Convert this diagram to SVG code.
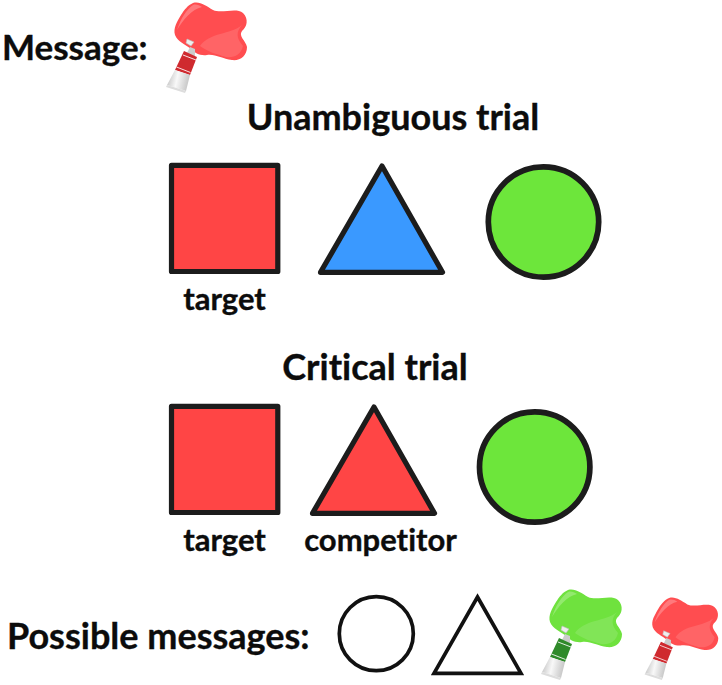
<svg xmlns="http://www.w3.org/2000/svg" width="722" height="685" viewBox="0 0 722 685">
<style>
text{font-family:Lato,"Liberation Sans",sans-serif;font-weight:700;fill:#0c0c0c;stroke:#0c0c0c;stroke-width:.35;font-variant-ligatures:none}
.h{font-size:36px}
.m{font-size:35px}
.l{font-size:31px}
.s{stroke:#1c1c1c;stroke-width:5.2;stroke-linejoin:round}
.c{stroke:#1c1c1c;stroke-width:5.700;fill:#6de63b}
.o{stroke:#111;stroke-width:3.700;fill:#fff;stroke-linejoin:miter}
</style>
<defs>
<linearGradient id="cap" x1="0" y1="0" x2="1" y2="0.2"><stop offset="0" stop-color="#bbb"/><stop offset=".5" stop-color="#f8f8f8"/><stop offset="1" stop-color="#c8c8c8"/></linearGradient>
<g id="paint">
<path d="M43 3 C50 1 56 6 63 10 C72 14 86 7 93 13 C99 19 97 27 92 31 C88 36 96 41 97 47 C97 56 90 61 82 60 C72 59 66 54 57 55 C50 56 45 53 41 49 C35 44 28 42 25 35 C23 28 27 22 31 15 C34 10 38 5 43 3Z" fill="var(--bc)"/>
<path d="M43 5 C37 9 31 18 27 30 C33 20 42 9 52 7 C49 5 46 4 43 5Z" fill="#fff" opacity=".25"/>
<path d="M50 46 C60 32 80 35 92 25 C86 32 86 38 93 46 C91 55 84 58 76 57 C66 54 58 52 50 46Z" fill="#fff" opacity=".13"/>
<path d="M37 39 L44 42 L41 46 L36 43Z" fill="#eee" stroke="#bbb" stroke-width=".6"/>
<path d="M40 47 L45 49 L45 57 L37 53Z" fill="#ccc"/>
<path d="M34 51 L47 57 L40 75 L25 70Z" fill="var(--tc)"/>
<path d="M33 55 L46 60 M26.500 67 L40.500 72.500" stroke="#fff" stroke-width="1" opacity=".85" fill="none"/>
<path d="M25 70 L40 75 L36 91 L17 85Z" fill="url(#cap)"/>
<path d="M17 85 L36 91 L35 93 L16 87Z" fill="#ddd"/>
</g>
</defs>
<text class="m" x="2" y="60">Message:</text>
<g id="paint-message" transform="translate(150,0)" style="--bc:#ff4d50;--tc:#cf2a2f"><use href="#paint"/></g>
<text class="h" x="393" y="130" text-anchor="middle">Unambiguous trial</text>
<g id="u-square"><rect class="s" x="171.500" y="165.300" width="106.300" height="106.200" fill="#ff4545"/></g>
<g id="u-triangle"><path class="s" d="M382 166 L442.500 272.300 L320.500 272.300Z" fill="#3a99ff"/></g>
<g id="u-circle"><circle class="c" cx="543.500" cy="222" r="55.200"/></g>
<text class="l" x="224.500" y="310" text-anchor="middle">target</text>
<text class="h" x="375" y="380" text-anchor="middle">Critical trial</text>
<g id="c-square"><rect class="s" x="171.500" y="406.300" width="106.300" height="106.200" fill="#ff4545"/></g>
<g id="c-triangle"><path class="s" d="M374 407 L434.500 513.300 L312.500 513.300Z" fill="#ff4545"/></g>
<g id="c-circle"><circle class="c" cx="534.700" cy="467" r="55.200"/></g>
<text class="l" x="224.500" y="551" text-anchor="middle">target</text>
<text class="l" x="380.500" y="551" text-anchor="middle">competitor</text>
<text class="h" x="7" y="649">Possible messages:</text>
<g id="o-circle"><circle class="o" cx="376.300" cy="633.700" r="37"/></g>
<g id="o-triangle"><path class="o" d="M477.500 597 L521 673.300 L434 673.300Z"/></g>
<g id="paint-green" transform="translate(525,587)" style="--bc:#6fe23e;--tc:#2f8a2a"><use href="#paint"/></g>
<g id="paint-red" transform="translate(630,595.300) scale(.91)" style="--bc:#ff4d50;--tc:#cf2a2f"><use href="#paint"/></g>
</svg>
